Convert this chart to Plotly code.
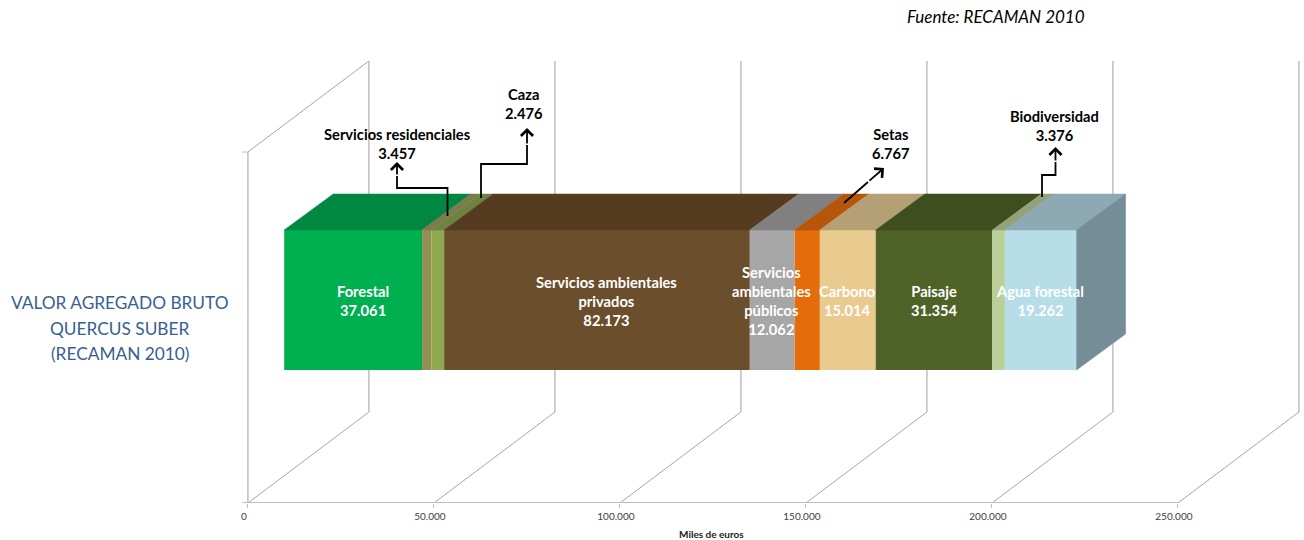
import plotly.graph_objects as go

# ---------- data ----------
categories = ["Forestal", "Caza", "Servicios residenciales", "Servicios ambientales privados",
              "Servicios ambientales públicos", "Setas", "Carbono", "Paisaje", "Biodiversidad", "Agua forestal"]
values = [37061, 2476, 3457, 82173, 12062, 6767, 15014, 31354, 3376, 19262]
value_labels = ["37.061", "2.476", "3.457", "82.173", "12.062", "6.767", "15.014", "31.354", "3.376", "19.262"]
tick_values = [0, 50000, 100000, 150000, 200000, 250000]
tick_labels = ["0", "50.000", "100.000", "150.000", "200.000", "250.000"]

# ---------- styles ----------
front_colors = ["#00B050", "#958F55", "#8FA950", "#6B4E2B", "#A6A6A6", "#E46C0A", "#EACB8F", "#4F6228", "#BBD097", "#B7DEE8"]
top_colors = ["#008841", "#7F7A4A", "#6D8340", "#553C21", "#808080", "#B5560A", "#B5A076", "#3E4E1F", "#92A27B", "#8DA9B3"]
side_color = "#758D96"
grid_color = "#BFBFBF"
slant_color = "#A6A6A6"
FONT = "Lato"

W, H = 1304, 540
X0_PX, FLOOR_PX = 247.9, 503
PX_PER_UNIT = 186.0 / 50000


def ux(px):
    return px / PX_PER_UNIT


def xpx(px):
    return (px - X0_PX) / PX_PER_UNIT


def ypx(py):
    return FLOOR_PX - py


WALL_DX, WALL_DY = ux(121), 91      # depth of the chart box
WALL_H = 351                        # height of the chart box
BAR_START = ux(36.3)                # front-left of bar relative to 0
BAR_Y0, BAR_H = ypx(370), 140       # front face
BAR_DX, BAR_DY = ux(49), 36         # bar depth

fig = go.Figure()

# cumulative positions
bases = []
c = BAR_START
for v in values:
    bases.append(c)
    c += v
bar_end = c

# front faces (real bars)
for name, v, b, col in zip(categories, values, bases, front_colors):
    fig.add_trace(go.Bar(x=[v], y=[BAR_Y0 + BAR_H / 2], base=[b], width=[BAR_H], orientation="h",
                         marker=dict(color=col, line=dict(width=0)), name=name, showlegend=False))

# top faces
top = BAR_Y0 + BAR_H
for name, v, b, col in zip(categories, values, bases, top_colors):
    fig.add_trace(go.Scatter(
        x=[b, b + v, b + v + BAR_DX, b + BAR_DX, b],
        y=[top, top, top + BAR_DY, top + BAR_DY, top],
        mode="lines", fill="toself", fillcolor=col, line=dict(width=0.5, color=col),
        hoverinfo="skip", showlegend=False))

# side face
fig.add_trace(go.Scatter(
    x=[bar_end, bar_end + BAR_DX, bar_end + BAR_DX, bar_end, bar_end],
    y=[BAR_Y0, BAR_Y0 + BAR_DY, top + BAR_DY, top, BAR_Y0],
    mode="lines", fill="toself", fillcolor=side_color, line=dict(width=0.5, color=side_color),
    hoverinfo="skip", showlegend=False))

# grid of the pseudo-3D box (below the traces)
shapes = []


def seg(x0, y0, x1, y1, color, width):
    shapes.append(dict(type="line", xref="x", yref="y", x0=x0, y0=y0, x1=x1, y1=y1,
                       line=dict(color=color, width=width), layer="below"))


for t in tick_values:
    seg(t, 0, t + WALL_DX, WALL_DY, slant_color, 1)
    seg(t + WALL_DX, WALL_DY, t + WALL_DX, WALL_DY + WALL_H, grid_color, 1.5)
seg(0, WALL_H, WALL_DX, WALL_DY + WALL_H, slant_color, 1)
seg(0, 0, 0, WALL_H, grid_color, 1.5)
seg(xpx(242), 0, tick_values[-1], 0, grid_color, 2)
seg(xpx(242), WALL_H, 0, WALL_H, grid_color, 1)

# callouts: (index, polyline in pixels, arrow head)
callouts = [
    (2, [(447.5, 216), (447.5, 188), (397, 188), (397, 176)], (397, 162)),
    (1, [(481, 198), (481, 164), (527, 164), (527, 145)], (527, 128)),
    (5, [(844, 203), (868, 182)], (884, 168)),
    (8, [(1042, 197), (1042, 175), (1055.5, 175), (1055.5, 162)], (1055.5, 147)),
]
annotations = []
for i, pts, head in callouts:
    fig.add_trace(go.Scatter(x=[xpx(p[0]) for p in pts], y=[ypx(p[1]) for p in pts], mode="lines",
                             line=dict(color="black", width=1.8), hoverinfo="skip", showlegend=False))
    annotations.append(dict(x=xpx(head[0]), y=ypx(head[1]), ax=xpx(pts[-1][0]), ay=ypx(pts[-1][1]),
                            xref="x", yref="y", axref="x", ayref="y", text="", showarrow=True,
                            arrowhead=4, arrowsize=1.3, arrowwidth=1.8, arrowcolor="black"))


def label(px, py, text, size, color="black", anchor="center"):
    annotations.append(dict(x=xpx(px), y=ypx(py) / FLOOR_PX, xref="x", yref="paper", text=text, showarrow=False,
                            font=dict(family=FONT, size=size, color=color), xanchor=anchor, yanchor="middle"))


LS = 14.7
# outside labels
label(396.5, 143.5, f"<b>{categories[2]}<br>{value_labels[2]}</b>", LS)
label(523.5, 104, f"<b>{categories[1]}<br>{value_labels[1]}</b>", LS)
label(890.5, 143.5, f"<b>{categories[5]}<br>{value_labels[5]}</b>", LS)
label(1054, 126, f"<b>{categories[8]}<br>{value_labels[8]}</b>", LS)

# labels on the bar
label(363, 300, f"<b>{categories[0]}<br>{value_labels[0]}</b>", LS, "white")
label(606, 300.5, f"<b>Servicios ambientales<br>privados<br>{value_labels[3]}</b>", LS, "white")
label(771.5, 300.5, f"<b>Servicios<br>ambientales<br>públicos<br>{value_labels[4]}</b>", LS, "white")
label(847, 300, f"<b>{categories[6]}<br>{value_labels[6]}</b>", LS, "white")
label(934, 300, f"<b>{categories[7]}<br>{value_labels[7]}</b>", LS, "white")
label(1040, 300, f"<b>{categories[9]}<br>{value_labels[9]}</b>", LS, "white")

# other text
title_lines = ["VALOR AGREGADO BRUTO", "QUERCUS SUBER", "(RECAMAN 2010)"]
for line, py in zip(title_lines, [302, 328, 353]):
    label(120, py, line, 17.3, "#376092")
label(996, 17, "<i>Fuente: RECAMAN 2010</i>", 17, "black")
label(711, 533.5, "<b>Miles de euros</b>", 10, "#222222")

fig.update_layout(
    width=W, height=H, margin=dict(l=0, r=0, t=0, b=H - FLOOR_PX),
    paper_bgcolor="white", plot_bgcolor="white", barmode="overlay", showlegend=False,
    xaxis=dict(range=[xpx(0), xpx(W)], tickmode="array", tickvals=tick_values, ticktext=tick_labels,
               showgrid=False, zeroline=False, showline=False, ticks="outside", ticklen=4, tickwidth=1,
               tickcolor=grid_color, tickfont=dict(family=FONT, size=10, color="#404040"),
               ticklabelshift=-4),
    yaxis=dict(range=[0, FLOOR_PX], visible=False, showgrid=False, zeroline=False),
    shapes=shapes, annotations=annotations,
)

fig.write_html("out.html", config=dict(displayModeBar=False),
               post_script="document.body.style.margin='0';")
